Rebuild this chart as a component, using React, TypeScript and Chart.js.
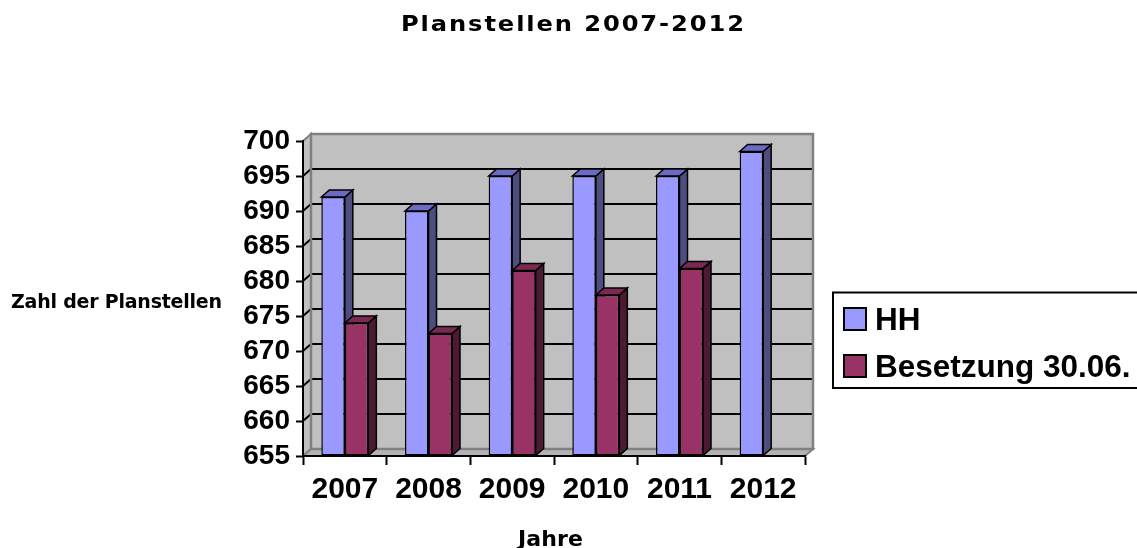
import React, { useEffect, useRef } from "react";
import { Chart, registerables } from "chart.js";

Chart.register(...registerables);

// ---- data ----
const years = ["2007", "2008", "2009", "2010", "2011", "2012"];
const hhValues = [692, 690, 695, 695, 695, 698.5];
const besetzungValues: (number | null)[] = [674, 672.5, 681.5, 678, 681.8, null];
const seriesLabels = ["HH", "Besetzung 30.06."];
const yMin = 655;
const yMax = 700;
const yStep = 5;
const titleText = "Planstellen 2007-2012";
const yTitleText = "Zahl der Planstellen";
const xTitleText = "Jahre";

// ---- style ----
const frontColors = ["#9999ff", "#993366"];
const sideColors = ["#4d4d80", "#4d1a33"];
const topColors = ["#6b6bc4", "#7a2952"];
const DX = 8;
const DY = -7;
const TEXT_FONT = "'DejaVu Sans', Verdana, sans-serif";
const NUM_FONT = "'Liberation Sans', Arial, sans-serif";

function poly(ctx: CanvasRenderingContext2D, pts: number[][], fill: string, stroke: string, lw: number) {
  ctx.beginPath();
  ctx.moveTo(pts[0][0], pts[0][1]);
  for (let i = 1; i < pts.length; i++) ctx.lineTo(pts[i][0], pts[i][1]);
  ctx.closePath();
  ctx.fillStyle = fill;
  ctx.fill();
  ctx.strokeStyle = stroke;
  ctx.lineWidth = lw;
  ctx.lineJoin = "miter";
  ctx.stroke();
}

function drawFaces(chart: any, dsIndex: number) {
  const ctx: CanvasRenderingContext2D = chart.ctx;
  const meta = chart.getDatasetMeta(dsIndex);
  ctx.save();
  meta.data.forEach((el: any, i: number) => {
    const v = chart.data.datasets[dsIndex].data[i];
    if (v === null || v === undefined) return;
    const { x, y, base, width } = el.getProps(["x", "y", "base", "width"], true);
    if (!isFinite(y)) return;
    const l = x - width / 2;
    const r = x + width / 2;
    poly(ctx, [[r, y], [r + DX, y + DY], [r + DX, base + DY], [r, base]], sideColors[dsIndex], "#000", 1.5);
    poly(ctx, [[l, y], [l + DX, y + DY], [r + DX, y + DY], [r, y]], topColors[dsIndex], "#000", 1.5);
  });
  ctx.restore();
}

// draws text horizontally stretched by sx, spread to the target width
function stretchedText(ctx: CanvasRenderingContext2D, text: string, x: number, y: number, sx: number, target: number) {
  ctx.save();
  ctx.translate(x, y);
  ctx.scale(sx, 1);
  (ctx as any).letterSpacing = "0px";
  const w = ctx.measureText(text).width;
  const sp = (target / sx - w) / Math.max(1, text.length - 1);
  (ctx as any).letterSpacing = sp.toFixed(2) + "px";
  ctx.fillText(text, 0, 0);
  ctx.restore();
}

const decorPlugin = {
  id: "decor3d",
  beforeDraw(chart: any) {
    const { ctx, chartArea: a, scales } = chart;
    const ys = scales.y;
    ctx.save();
    // left wall
    poly(ctx, [[a.left, a.top], [a.left + DX, a.top + DY], [a.left + DX, a.bottom + DY], [a.left, a.bottom]], "#c0c0c0", "#808080", 2);
    // floor
    poly(ctx, [[a.left, a.bottom], [a.left + DX, a.bottom + DY], [a.right + DX, a.bottom + DY], [a.right, a.bottom]], "#b4b4b4", "#808080", 2);
    // back wall
    ctx.fillStyle = "#c0c0c0";
    ctx.fillRect(a.left + DX, a.top + DY, a.right - a.left, a.bottom - a.top);
    // grid lines on walls
    ctx.strokeStyle = "#000";
    ctx.lineWidth = 2;
    for (let v = yMin + yStep; v < yMax; v += yStep) {
      const py = ys.getPixelForValue(v);
      ctx.beginPath();
      ctx.moveTo(a.left, py);
      ctx.lineTo(a.left + DX, py + DY);
      ctx.lineTo(a.right + DX, py + DY);
      ctx.stroke();
    }
    ctx.strokeStyle = "#808080";
    ctx.lineWidth = 2.5;
    ctx.strokeRect(a.left + DX, a.top + DY, a.right - a.left, a.bottom - a.top);
    ctx.restore();
  },
  beforeDatasetsDraw(chart: any) {
    drawFaces(chart, 0);
  },
  afterDatasetsDraw(chart: any) {
    drawFaces(chart, 1);
  },
  afterDraw(chart: any) {
    const ctx: CanvasRenderingContext2D = chart.ctx;
    ctx.save();
    ctx.fillStyle = "#000";
    ctx.textBaseline = "alphabetic";
    ctx.textAlign = "left";
    // title
    ctx.font = "bold 21px " + TEXT_FONT;
    stretchedText(ctx, titleText, 401, 31, 1.15, 343);
    // y title (horizontal)
    ctx.font = "bold 19px " + TEXT_FONT;
    stretchedText(ctx, yTitleText, 11, 308, 1.0, 211);
    // x title
    ctx.font = "bold 21px " + TEXT_FONT;
    stretchedText(ctx, xTitleText, 518, 546, 1.05, 65);
    // legend
    ctx.strokeStyle = "#000";
    ctx.lineWidth = 2;
    ctx.strokeRect(833, 292.5, 320, 95.5);
    ctx.font = "bold 31.5px " + NUM_FONT;
    const rows = [330, 377];
    chart.data.datasets.forEach((ds: any, i: number) => {
      const base = rows[i];
      ctx.fillStyle = ds.backgroundColor;
      ctx.fillRect(844, base - 22, 22, 22);
      ctx.lineWidth = 2;
      ctx.strokeStyle = "#000";
      ctx.strokeRect(844, base - 22, 22, 22);
      ctx.fillStyle = "#000";
      ctx.fillText(ds.label, 875, base);
    });
    ctx.restore();
  },
};

export default function App() {
  const canvasRef = useRef<HTMLCanvasElement | null>(null);

  useEffect(() => {
    if (!canvasRef.current) return;
    const chart = new Chart(canvasRef.current, {
      type: "bar",
      data: {
        labels: years,
        datasets: [
          {
            label: seriesLabels[0],
            data: hhValues,
            backgroundColor: frontColors[0],
            borderColor: "#000",
            borderWidth: 1.5,
            borderSkipped: false,
            base: yMin,
          },
          {
            label: seriesLabels[1],
            data: besetzungValues,
            backgroundColor: frontColors[1],
            borderColor: "#000",
            borderWidth: 1.5,
            borderSkipped: false,
            base: yMin,
          },
        ],
      },
      options: {
        animation: false,
        responsive: true,
        maintainAspectRatio: false,
        devicePixelRatio: 1,
        layout: { padding: { top: 141, right: 332, bottom: 32, left: 0 } },
        datasets: {
          bar: { categoryPercentage: 0.562, barPercentage: 1 },
        },
        plugins: {
          legend: { display: false },
          title: { display: false },
          tooltip: { enabled: false },
        },
        scales: {
          x: {
            afterFit: (s: any) => {
              s.height = 60;
            },
            grid: {
              offset: true,
              drawOnChartArea: false,
              drawTicks: true,
              tickLength: 9,
              tickColor: "#000",
              tickWidth: 2,
            },
            border: { display: true, color: "#000", width: 2 },
            ticks: {
              color: "#000",
              padding: 7,
              font: { family: NUM_FONT, size: 30, weight: "bold" },
              maxRotation: 0,
              autoSkip: false,
            },
          },
          y: {
            min: yMin,
            max: yMax,
            afterFit: (s: any) => {
              s.width = 303;
            },
            grid: {
              drawOnChartArea: false,
              drawTicks: true,
              tickLength: 7,
              tickColor: "#000",
              tickWidth: 2,
            },
            border: { display: true, color: "#000", width: 2 },
            ticks: {
              stepSize: yStep,
              autoSkip: false,
              color: "#000",
              padding: 6,
              font: { family: NUM_FONT, size: 28, weight: "bold" },
            },
          },
        },
      },
      plugins: [decorPlugin],
    });
    return () => chart.destroy();
  }, []);

  return (
    <div style={{ position: "absolute", left: 0, top: 0, width: 1137, height: 548, background: "#fff" }}>
      <canvas ref={canvasRef} />
    </div>
  );
}
